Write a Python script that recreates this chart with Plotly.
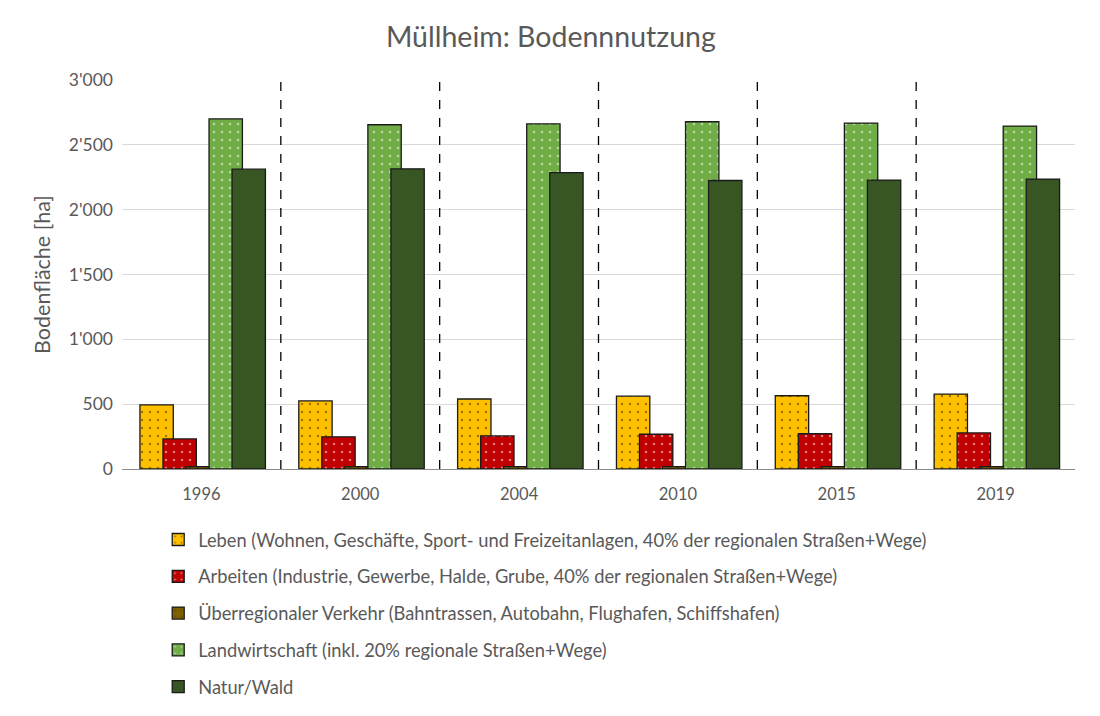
import plotly.graph_objects as go

years = ["1996", "2000", "2004", "2010", "2015", "2019"]
leben = [495, 525, 540, 562, 565, 578]
arbeiten = [232, 248, 255, 268, 272, 278]
verkehr = [18, 18, 18, 18, 18, 18]
landwirtschaft = [2700, 2655, 2662, 2678, 2668, 2645]
natur = [2312, 2315, 2285, 2225, 2228, 2236]

names = [
    "Leben (Wohnen, Geschäfte, Sport- und Freizeitanlagen, 40% der regionalen Straßen+Wege)",
    "Arbeiten (Industrie, Gewerbe, Halde, Grube, 40% der regionalen Straßen+Wege)",
    "Überregionaler Verkehr (Bahntrassen, Autobahn, Flughafen, Schiffshafen)",
    "Landwirtschaft (inkl. 20% regionale Straßen+Wege)",
    "Natur/Wald",
]
series = [leben, arbeiten, verkehr, landwirtschaft, natur]
colors = ["#FFC000", "#C00000", "#7F6000", "#70AD47", "#375623"]
dotcolors = ["#3a2a00", "#ffffff", "#3a2a00", "#ffffff", None]
offsets = [-0.387, -0.242, -0.097, 0.048, 0.193]
width = 0.21

fig = go.Figure()
for i, (nm, vals) in enumerate(zip(names, series)):
    if dotcolors[i]:
        pattern = dict(shape=".", fgcolor=dotcolors[i], bgcolor=colors[i],
                       size=8, solidity=0.08, fillmode="overlay")
    else:
        pattern = dict(shape="")
    fig.add_trace(go.Bar(
        x=years, y=vals, name=nm, offset=offsets[i], width=width,
        marker=dict(color=colors[i], line=dict(color="#1a1a1a", width=1.3),
                    pattern=pattern),
        legendgroup=f"g{i}",
    ))

for k in range(1, len(years)):
    fig.add_shape(type="line", xref="x", yref="y", x0=k - 0.5, x1=k - 0.5,
                  y0=0, y1=3000, line=dict(color="black", width=1.3, dash="dash"))

font_fam = "Lato, 'Open Sans', sans-serif"
fig.update_layout(
    width=1100, height=716,
    barmode="overlay",
    separators=".'",
    paper_bgcolor="white", plot_bgcolor="white",
    margin=dict(l=114, r=33, t=72, b=255, autoexpand=False),
    title=dict(text="Müllheim: Bodennnutzung", x=0.4935, xanchor="center",
               y=0.96, yanchor="middle",
               font=dict(family=font_fam, size=28.5, color="#595959")),
    font=dict(family=font_fam, color="#595959", size=16),
    xaxis=dict(type="category", range=[-0.5, 5.5], showgrid=False,
               showline=True, linecolor="#8c8c8c", linewidth=1,
               automargin=False, ticks="", ticklabelstandoff=10,
               tickfont=dict(size=16.5, color="#595959")),
    yaxis=dict(range=[0, 3000], dtick=500, tickformat=",d",
               showgrid=True, gridcolor="#D9D9D9", gridwidth=1,
               zeroline=False, showline=False, ticks="", automargin=False,
               ticklabelstandoff=8,
               tickfont=dict(size=17.5, color="#595959"),
               title=dict(text="Bodenfläche [ha]", standoff=12,
                          font=dict(size=21.5, color="#595959"))),
    legend=dict(orientation="v", x=0.038, xanchor="left", y=-0.134,
                yanchor="top", traceorder="grouped", tracegroupgap=10,
                font=dict(size=18.3, color="#595959"), bgcolor="rgba(0,0,0,0)"),
    showlegend=True,
)

fig.write_html("out.html")
